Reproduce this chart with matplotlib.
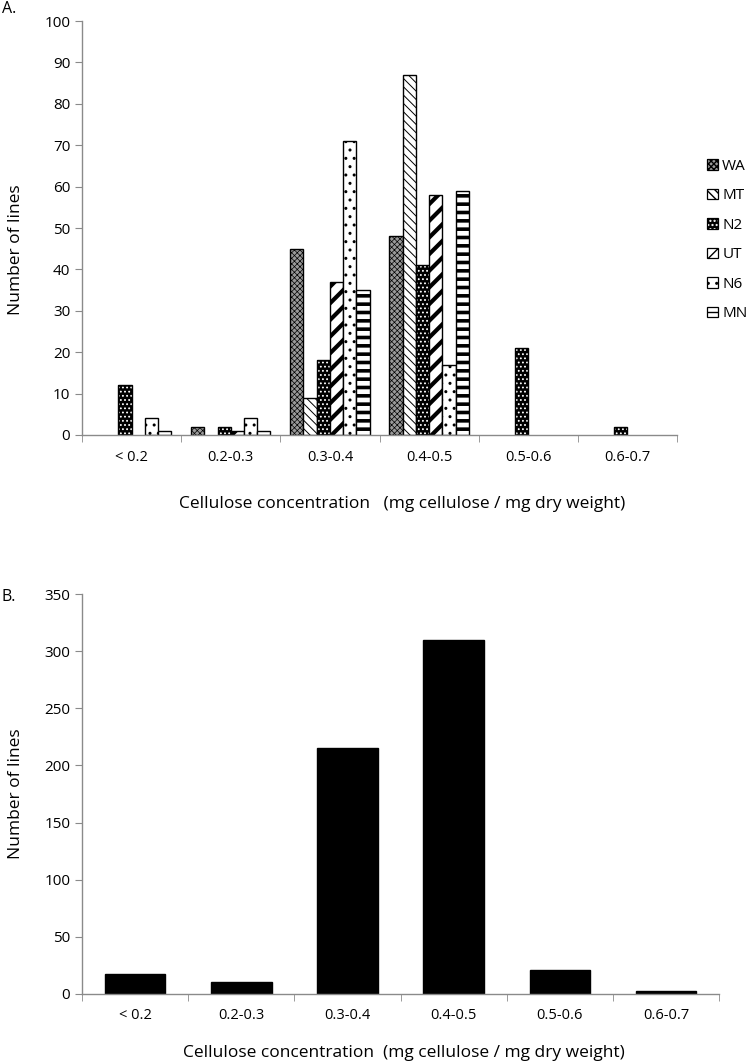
import numpy as np
import matplotlib
matplotlib.use("Agg")
import matplotlib.pyplot as plt
from matplotlib.patches import Patch
from matplotlib.legend_handler import HandlerTuple

plt.rcParams['font.family'] = ['Open Sans', 'DejaVu Sans']

# categories and counts
categories = ["< 0.2", "0.2-0.3", "0.3-0.4", "0.4-0.5", "0.5-0.6", "0.6-0.7"]
series = ["WA", "MT", "N2", "UT", "N6", "MN"]
wa = [0, 2, 45, 48, 0, 0]
mt = [0, 0, 9, 87, 0, 0]
n2 = [12, 2, 18, 41, 21, 2]
ut = [0, 1, 37, 58, 0, 0]
n6 = [4, 4, 71, 17, 0, 0]
mn = [1, 1, 35, 59, 0, 0]
total = [17, 10, 215, 310, 21, 2]

# fill style per series: (facecolor, hatch, hatch colour, hatch linewidth)
styles = {
    "WA": ("#9a9a9a", "xxxxxx", "black", 0.5),
    "MT": ("white", "\\\\\\\\", "black", 0.7),
    "N2": ("black", "....", "white", 0.8),
    "UT": ("white", "//", "black", 3.0),
    "N6": ("white", "..", "black", 1.0),
    "MN": ("white", "--", "black", 2.6),
}
values = dict(zip(series, [wa, mt, n2, ut, n6, mn]))

axis_grey = "#8a8a8a"

fig = plt.figure(figsize=(7.56, 10.62), dpi=100)
axA = fig.add_axes([0.1085, 0.5904, 0.787, 0.3898])
axB = fig.add_axes([0.1085, 0.0643, 0.8426, 0.3761])


def style_axis(ax, n):
    for s in ["top", "right"]:
        ax.spines[s].set_visible(False)
    for s in ["left", "bottom"]:
        ax.spines[s].set_color(axis_grey)
        ax.spines[s].set_linewidth(1.0)
    ax.set_xlim(-0.5, n - 0.5)
    ax.set_xticks(np.arange(n))
    ax.set_xticks(np.arange(n + 1) - 0.5, minor=True)
    ax.tick_params(axis="x", which="major", length=0, pad=10.5)
    ax.tick_params(axis="x", which="minor", length=5, color=axis_grey, direction="out")
    ax.tick_params(axis="y", length=5, color=axis_grey, direction="out", labelsize=11)


# Panel A: grouped patterned bars (zero counts are not drawn)
x = np.arange(len(categories))
w = 0.8 / len(series)
for i, name in enumerate(series):
    fc, hatch, hc, hlw = styles[name]
    vals = np.array(values[name])
    keep = vals > 0
    pos = (x - 0.4 + w * (i + 0.5))[keep]
    with plt.rc_context({"hatch.linewidth": hlw}):
        axA.bar(pos, vals[keep], width=w, color=fc, edgecolor=hc, hatch=hatch, linewidth=0)
    axA.bar(pos, vals[keep], width=w, facecolor="none", edgecolor="black", linewidth=1.0)

style_axis(axA, len(categories))
axA.set_ylim(0, 100)
axA.set_yticks(range(0, 101, 10))
axA.set_xticklabels(categories, fontsize=10.5)

# legend swatches: pattern patch + black outline drawn on top of each other
handles = []
for name in series:
    fc, hatch, hc, hlw = styles[name]
    fill = Patch(facecolor=fc, edgecolor=hc, hatch=hatch, linewidth=0)
    outline = Patch(facecolor="none", edgecolor="black", linewidth=0.9)
    handles.append((fill, outline))
fig.legend(handles, series, loc="center left", bbox_to_anchor=(0.917, 0.774),
           frameon=False, fontsize=11, handlelength=0.7, handleheight=0.7,
           handletextpad=0.3, labelspacing=0.95,
           handler_map={tuple: HandlerTuple(ndivide=1, pad=0)})

fig.text(16 / 756, 1 - 250 / 1062, "Number of lines", rotation=90,
         ha="center", va="center", fontsize=12.5)
fig.text(0.532, 1 - 508 / 1062, "Cellulose concentration   (mg cellulose / mg dry weight)",
         ha="center", va="baseline", fontsize=12.5)
fig.text(0.002, 1 - 9 / 1062, "A.", ha="left", va="center", fontsize=11.5)

# Panel B: totals
axB.bar(x, total, width=0.57, color="black", edgecolor="black")
style_axis(axB, len(categories))
axB.set_ylim(0, 350)
axB.set_yticks(range(0, 351, 50))
axB.set_xticklabels(categories, fontsize=10.5)

fig.text(16 / 756, 1 - 794 / 1062, "Number of lines", rotation=90,
         ha="center", va="center", fontsize=12.5)
fig.text(0.534, 1 - 1057 / 1062, "Cellulose concentration  (mg cellulose / mg dry weight)",
         ha="center", va="baseline", fontsize=12.5)
fig.text(0.002, 1 - 597 / 1062, "B.", ha="left", va="center", fontsize=11.5)

fig.savefig("out.png", dpi=100)
